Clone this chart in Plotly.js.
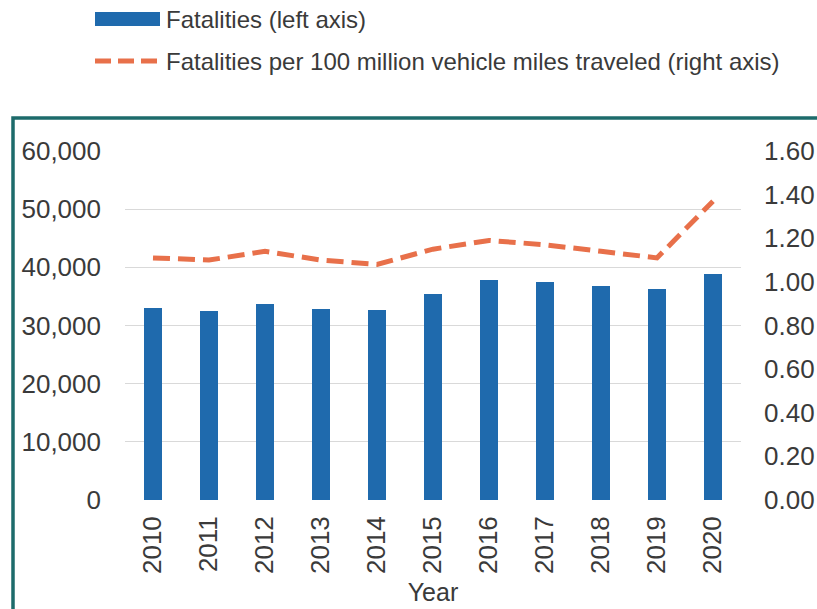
<!DOCTYPE html>
<html>
<head>
<meta charset="utf-8">
<script src="https://cdn.plot.ly/plotly-3.0.1.min.js"></script>
<style>html,body{margin:0;padding:0;background:#fff;}#chart{width:817px;height:609px;}</style>
</head>
<body>
<div id="chart"></div>
<script>
const years = ['2010','2011','2012','2013','2014','2015','2016','2017','2018','2019','2020'];
const fatalities = [32999, 32479, 33782, 32893, 32744, 35484, 37806, 37473, 36835, 36355, 38824];
const ratePer100M = [1.11, 1.10, 1.14, 1.10, 1.08, 1.15, 1.19, 1.17, 1.14, 1.11, 1.37];
const leftTicks = [0, 10000, 20000, 30000, 40000, 50000, 60000];
const rightTicks = [0, 0.2, 0.4, 0.6, 0.8, 1.0, 1.2, 1.4, 1.6];
const legendLabels = ['Fatalities (left axis)', 'Fatalities per 100 million vehicle miles traveled (right axis)'];

const blue = '#1f6aad';
const orange = '#e8704a';
const teal = '#1d6b6b';
const txt = '#3a3a3a';
const tickFont = {family: 'Liberation Sans, Arial, sans-serif', size: 26, color: txt};
const titleFont = {family: 'Liberation Sans, Arial, sans-serif', size: 25, color: txt};
const legFont = {family: 'Liberation Sans, Arial, sans-serif', size: 24, color: txt};

const traces = [
  {type: 'bar', x: years, y: fatalities, name: legendLabels[0], marker: {color: blue}, width: 0.32, yaxis: 'y', showlegend: false},
  {type: 'scatter', mode: 'lines', x: years, y: ratePer100M, name: legendLabels[1], yaxis: 'y2',
   line: {color: orange, width: 5, dash: '17px,8px'}, showlegend: false}
];

// pixel -> paper helpers (plot area: x 125..741, y 151..500)
const L = 125, R = 741, T = 151, B = 500;
const px = v => (v - L) / (R - L);
const py = v => (B - v) / (B - T);

const layout = {
  width: 817, height: 609,
  margin: {l: L, r: 817 - R, t: T, b: 609 - B},
  paper_bgcolor: '#ffffff', plot_bgcolor: '#ffffff',
  bargap: 0,
  xaxis: {type: 'category', tickangle: -90, tickfont: tickFont, showgrid: false, zeroline: false, showline: false,
          ticks: '', ticklabelstandoff: 10, title: {text: 'Year', font: titleFont, standoff: 10}, automargin: false},
  yaxis: {range: [0, 60000], tickvals: leftTicks, tickformat: ',d', tickfont: tickFont,
          showgrid: true, gridcolor: '#d9d9d9', gridwidth: 1, zeroline: false, showline: false,
          ticks: '', ticklabelstandoff: 23, automargin: false},
  yaxis2: {range: [0, 1.6], tickvals: rightTicks, tickformat: '.2f', tickfont: tickFont, overlaying: 'y', side: 'right',
           showgrid: false, zeroline: false, showline: false, ticks: '', ticklabelstandoff: 22, automargin: false},
  shapes: [
    {type: 'rect', xref: 'paper', yref: 'paper', x0: px(13), x1: px(840), y0: py(118), y1: py(640),
     line: {color: teal, width: 3.5}, fillcolor: 'rgba(0,0,0,0)', layer: 'below'},
    {type: 'rect', xref: 'paper', yref: 'paper', x0: px(95), x1: px(160), y0: py(26), y1: py(12),
     line: {width: 0}, fillcolor: blue},
    {type: 'line', xref: 'paper', yref: 'paper', x0: px(95), x1: px(157), y0: py(61), y1: py(61),
     line: {color: orange, width: 5, dash: '16px,7px'}}
  ],
  annotations: [
    {xref: 'paper', yref: 'paper', x: px(164), y: py(19), xanchor: 'left', yanchor: 'middle', text: legendLabels[0], showarrow: false, font: legFont},
    {xref: 'paper', yref: 'paper', x: px(164), y: py(61), xanchor: 'left', yanchor: 'middle', text: legendLabels[1], showarrow: false, font: legFont}
  ]
};

Plotly.newPlot('chart', traces, layout, {staticPlot: true, displayModeBar: false});
</script>
</body>
</html>
